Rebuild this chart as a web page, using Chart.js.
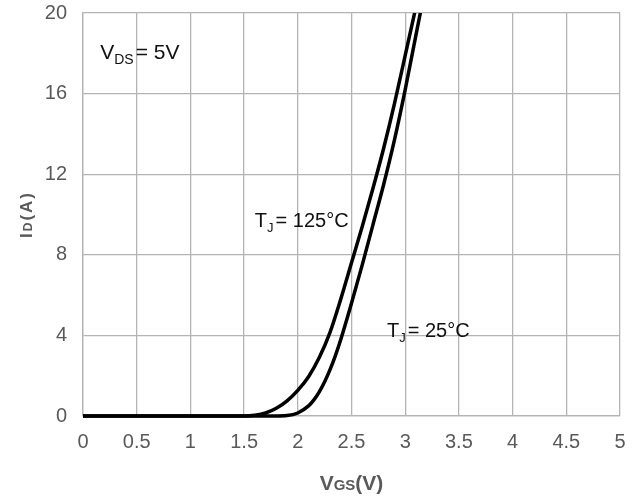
<!DOCTYPE html>
<html>
<head>
<meta charset="utf-8">
<script src="https://cdn.jsdelivr.net/npm/chart.js@4"></script>
<style>
  html, body { margin: 0; padding: 0; background: #fff; }
</style>
</head>
<body>
<canvas id="chart" width="638" height="498"></canvas>
<script>
// transfer characteristics
const vgs125 = [0, 0.5, 1.0, 1.5, 1.6, 1.7, 1.8, 1.9, 2.0, 2.1, 2.2, 2.3, 2.4, 2.5, 2.6, 2.7, 2.8, 2.9, 3.0, 3.1, 3.2]
const id125  = [0, 0, 0, 0, 0.04, 0.15, 0.38, 0.75, 1.27, 1.95, 2.9, 4.15, 5.8, 7.6, 9.4, 11.3, 13.3, 15.5, 17.9, 20.3, 22.7]
const vgs25  = [0, 0.5, 1.0, 1.5, 1.8, 1.9, 2.0, 2.1, 2.15, 2.2, 2.25, 2.3, 2.35, 2.4, 2.5, 2.6, 2.7, 2.8, 2.9, 3.0, 3.1, 3.2]
const id25   = [0, 0, 0, 0, 0, 0.02, 0.15, 0.5, 0.8, 1.2, 1.7, 2.3, 3.0, 3.8, 5.6, 7.5, 9.5, 11.5, 13.7, 16.2, 18.9, 21.6]

// text labels placed in data units
const notes = [
  { x: 0.16, y: 17.7, main: 'V', sub: 'DS', rest: '= 5V', size: 21 },
  { x: 1.60, y: 9.4,  main: 'T', sub: 'J',  rest: '= 125°C', size: 20 },
  { x: 2.83, y: 3.9,  main: 'T', sub: 'J',  rest: '= 25°C', size: 20 },
]

const FONT = "'Liberation Sans', Arial, sans-serif"
const GRID = '#b4b4b4'
const TICK = '#595959'

const toXY = (xs, ys) => xs.map((x, i) => ({ x, y: ys[i] }))

const lineStyle = {
  borderColor: '#000',
  borderWidth: 3.5,
  pointRadius: 0,
  fill: false,
  cubicInterpolationMode: 'monotone',
  clip: { left: 3, top: 0, right: 0, bottom: 3 },
}

const textPlugin = {
  id: 'texts',
  afterDraw(chart) {
    const { ctx, chartArea: a, scales: { x, y } } = chart
    ctx.save()
    ctx.textBaseline = 'alphabetic'
    ctx.textAlign = 'left'

    // annotations with subscripts
    ctx.fillStyle = '#111'
    for (const n of notes) {
      let px = x.getPixelForValue(n.x)
      const py = y.getPixelForValue(n.y)
      ctx.font = `${n.size}px ${FONT}`
      ctx.fillText(n.main, px, py)
      px += ctx.measureText(n.main).width
      ctx.font = `${Math.round(n.size * 0.65)}px ${FONT}`
      ctx.fillText(n.sub, px, py + 5)
      px += ctx.measureText(n.sub).width + 2
      ctx.font = `${n.size}px ${FONT}`
      ctx.fillText(n.rest, px, py)
    }

    // axis titles, smaller letters for the subscripts
    ctx.fillStyle = TICK
    const drawParts = (parts, cx, cy) => {
      let w = 0
      for (const [t, f] of parts) { ctx.font = f; w += ctx.measureText(t).width }
      let px = cx - w / 2
      for (const [t, f] of parts) { ctx.font = f; ctx.fillText(t, px, cy); px += ctx.measureText(t).width }
    }
    const big = `bold 21px ${FONT}`, small = `bold 15px ${FONT}`
    drawParts([['V', big], ['GS', small], ['(V)', big]], (a.left + a.right) / 2, 490)

    ctx.translate(32, (a.top + a.bottom) / 2)
    ctx.rotate(-Math.PI / 2)
    ctx.letterSpacing = '2px'
    drawParts([['I', `bold 17px ${FONT}`], ['D', `bold 12px ${FONT}`], ['(A)', `bold 17px ${FONT}`]], 0, 0)
    ctx.restore()
  },
}

new Chart(document.getElementById('chart'), {
  type: 'line',
  data: {
    datasets: [
      { label: 'TJ = 125°C', data: toXY(vgs125, id125), ...lineStyle },
      { label: 'TJ = 25°C',  data: toXY(vgs25, id25),  ...lineStyle },
    ],
  },
  options: {
    responsive: false,
    animation: false,
    layout: { padding: 0 },
    plugins: { legend: { display: false }, tooltip: { enabled: false } },
    scales: {
      x: {
        type: 'linear', min: 0, max: 5,
        ticks: {
          stepSize: 0.5, color: TICK, font: { family: FONT, size: 20 }, padding: 14, maxRotation: 0,
          callback: v => String(Math.round(v * 10) / 10),
        },
        grid: { color: GRID, lineWidth: 1.3, drawTicks: false },
        border: { color: GRID, width: 1.3 },
        afterFit: s => { s.height = 82; s.paddingRight = 18; s.paddingLeft = 0 },
      },
      y: {
        min: 0, max: 20,
        ticks: { stepSize: 4, color: TICK, font: { family: FONT, size: 20 }, padding: 16 },
        grid: { color: GRID, lineWidth: 1.3, drawTicks: false },
        border: { color: GRID, width: 1.3 },
        afterFit: s => { s.width = 83; s.paddingTop = 13; s.paddingBottom = 0 },
      },
    },
  },
  plugins: [textPlugin],
})
</script>
</body>
</html>
